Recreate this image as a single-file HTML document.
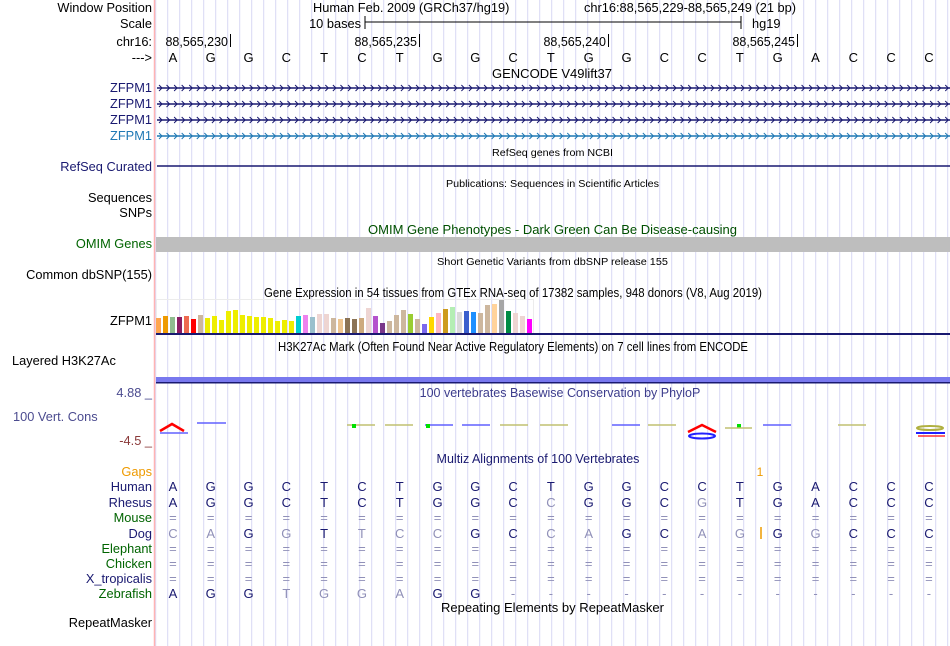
<!DOCTYPE html>
<html><head><meta charset="utf-8"><style>
body{margin:0;background:#fff;}
svg{display:block;font-family:"Liberation Sans",sans-serif;}
</style></head><body>
<svg id="c" width="950" height="646" xmlns="http://www.w3.org/2000/svg">
<g id="grid"></g>
<line x1="154.5" y1="0" x2="154.5" y2="646" stroke="#ffb3b3" stroke-width="1.5"/>
<g id="labels" font-size="12.8" text-anchor="end"></g>
<g id="content"></g>
</svg>
<script>
const bases = "AGGCTCTGGCTGGCCTGACCC".split("");
const gtexHeights = [15,17,16,16,17,14,18,15,17,13,22,23,18,17,16,16,15,12,13,12,17,18,16,19,19,15,14,15,14,15,25,17,10,12,18,23,19,14,9,16,20,24,26,21,22,21,20,28,29,33,22,20,17,14];
const gtexColors = ["#FFA54F","#EE9A00","#8FBC8F","#8B1C62","#EE6A50","#FF0000","#CDB79E","#EEEE00","#EEEE00","#EEEE00","#EEEE00","#EEEE00","#EEEE00","#EEEE00","#EEEE00","#EEEE00","#EEEE00","#EEEE00","#EEEE00","#EEEE00","#00CED1","#EE82EE","#9AC0CD","#EED5D2","#EED5D2","#CDB79E","#EEC591","#8B7355","#8B7355","#CDAA7D","#EED5D2","#B452CD","#7A378B","#CDB79E","#CDB79E","#CDB79E","#9ACD32","#CDB79E","#7B68EE","#FFD700","#FFB6C1","#CD9B1D","#B4EEB4","#D9D9D9","#3A5FCD","#1E90FF","#CDB79E","#CDB79E","#FFD39B","#A6A6A6","#008B45","#EED5D2","#EED5D2","#FF00FF"];
const rhesus = "AGGCTCTGGCCGGCGTGACCC".split("");
const dog = "CAGGTTCCGCCAGCAGGGCCC".split("");
const zebra = "AGGTGGAGG------------".split("");

const NS="http://www.w3.org/2000/svg";
const svg=document.getElementById('c');
const X0=154, BW=37.8;
const bx=i=>X0+BW*(i+0.5);
const gtexX=i=>156+7*i;
const gtexY=v=>333-v;
function mk(tag,attrs,parent,text){const e=document.createElementNS(NS,tag);for(const k in attrs)e.setAttribute(k,attrs[k]);if(text!==undefined)e.textContent=text;parent.appendChild(e);return e;}
const grid=document.getElementById('grid');
for(let x=155.7;x<950;x+=12){const l=mk('line',{x1:x,y1:0,x2:x,y2:646,stroke:'#d8d8f4','stroke-width':1},grid);

}
const L=document.getElementById('labels');
const labs=[["Window Position",12,"#000"],["Scale",28,"#000"],["chr16:",46,"#000"],["--->",62,"#000"],["ZFPM1",92,"#191970"],["ZFPM1",108,"#191970"],["ZFPM1",124,"#191970"],["ZFPM1",140,"#1f78b4"],["RefSeq Curated",171,"#191970"],["Sequences",202,"#000"],["SNPs",217,"#000"],["OMIM Genes",248,"#006400"],["Common dbSNP(155)",279,"#000"],["ZFPM1",325,"#000"],["4.88 _",397,"#4b4b8f"],["-4.5 _",445,"#8b3a3a"],["Gaps",476,"#ee9a00"],["Human",491,"#191970"],["Rhesus",507,"#191970"],["Mouse",522,"#006400"],["Dog",538,"#191970"],["Elephant",553,"#006400"],["Chicken",568,"#006400"],["X_tropicalis",583,"#191970"],["Zebrafish",598,"#006400"],["RepeatMasker",627,"#000"]];
labs.forEach(a=>{const t=mk('text',{x:152,y:a[1],fill:a[2]},L,a[0]);

});
const C=document.getElementById('content');
let t;
t=mk('text',{x:13,y:421,fill:'#4b4b8f','font-size':12.8},C,"100 Vert. Cons");
t=mk('text',{x:12,y:365,fill:'#000','font-size':12.8},C,"Layered H3K27Ac");
function title(txt,y,fs,col,x1,x2){const e=mk('text',{x:x1,y:y,'font-size':fs,fill:col||'#000',textLength:x2-x1,lengthAdjust:'spacingAndGlyphs'},C,txt);return e;}
function ctitle(txt,y,fs,col,cx){const e=mk('text',{x:cx,y:y,'font-size':fs,fill:col,'text-anchor':'middle'},C,txt);return e;}
t=mk('text',{x:313,y:12,'font-size':12.8},C,"Human Feb. 2009 (GRCh37/hg19)");
t=mk('text',{x:796,y:12,'font-size':12.8,'text-anchor':'end'},C,"chr16:88,565,229-88,565,249 (21 bp)");
t=mk('text',{x:361,y:28,'font-size':12.8,'text-anchor':'end'},C,"10 bases");
mk('line',{x1:365,y1:22,x2:741,y2:22,stroke:'#000'},C);
mk('line',{x1:365,y1:16,x2:365,y2:29,stroke:'#000'},C);mk('line',{x1:741,y1:16,x2:741,y2:29,stroke:'#000'},C);
t=mk('text',{x:752,y:28,'font-size':12.8},C,"hg19");
[["88,565,230",230],["88,565,235",419],["88,565,240",608],["88,565,245",797]].forEach(p=>{
const tt=mk('text',{x:p[1]-2,y:46,'font-size':12.5,'text-anchor':'end'},C,p[0]);
mk('line',{x1:p[1]+0.5,y1:34,x2:p[1]+0.5,y2:47,stroke:'#000'},C);});
bases.forEach((b,i)=>{const e=mk('text',{x:bx(i),y:62,'font-size':13,'text-anchor':'middle'},C,b);});
title("GENCODE V49lift37",78,12.8,'#000',492,612);
title("RefSeq genes from NCBI",156,10,'#000',492,613);
title("Publications: Sequences in Scientific Articles",187,10,'#000',446,659);
title("OMIM Gene Phenotypes - Dark Green Can Be Disease-causing",234,12.5,'#005000',368,737);
title("Short Genetic Variants from dbSNP release 155",265,10,'#000',437,668);
title("Gene Expression in 54 tissues from GTEx RNA-seq of 17382 samples, 948 donors (V8, Aug 2019)",297,12.5,'#000',264,762);
title("H3K27Ac Mark (Often Found Near Active Regulatory Elements) on 7 cell lines from ENCODE",351,12.5,'#000',278,748);
ctitle("100 vertebrates Basewise Conservation by PhyloP",397,12.5,'#3c3c8c',560);
ctitle("Multiz Alignments of 100 Vertebrates",463,12.5,'#191970',538);
title("Repeating Elements by RepeatMasker",612,12.5,'#000',441,664);
// gene lines with arrows
[[88,'#191970'],[104,'#191970'],[120,'#191970'],[136,'#1f78b4']].forEach(g=>{
const grp=mk('g',{stroke:g[1],fill:'none'},C);
mk('line',{x1:157,y1:g[0],x2:950,y2:g[0],'stroke-width':1.5},grp);
let d='';for(let x=159;x<948;x+=7.56){d+=`M${x} ${g[0]-3}L${x+3} ${g[0]}L${x} ${g[0]+3}`;}
mk('path',{d:d,'stroke-width':1},grp);});
mk('line',{x1:157,y1:166,x2:950,y2:166,stroke:'#191970','stroke-width':1.5},C);
mk('rect',{x:156,y:237,width:794,height:15,fill:'#bebebe'},C);
mk('rect',{x:156.5,y:299.5,width:377,height:34,fill:'none',stroke:'#ececec'},C);
// GTEx bars
gtexHeights.forEach((h,i)=>{const r=mk('rect',{x:gtexX(i),y:gtexY(h),width:5,height:333-gtexY(h),fill:gtexColors[i]},C);

});
mk('rect',{x:156,y:333,width:794,height:2,fill:'#191970'},C);
mk('rect',{x:156,y:377,width:794,height:5,fill:'#7878ee'},C);
mk('rect',{x:156,y:382,width:794,height:1.5,fill:'#191970'},C);
// conservation logos (approximate)
const cg=mk('g',{fill:'none','stroke-width':1.5},C);
mk('path',{d:'M160 431L172 424L184 431',stroke:'#ff0000','stroke-width':2.5},cg);
mk('line',{x1:160,y1:433,x2:188,y2:433,stroke:'#6060ff'},cg);
mk('line',{x1:197,y1:423,x2:226,y2:423,stroke:'#6060ff'},cg);
[[347,'#c0c070'],[385,'#c0c070'],[425,'#6060ff'],[462,'#6060ff'],[500,'#c0c070'],[540,'#c0c070'],[612,'#6060ff'],[648,'#c0c070'],[763,'#6060ff'],[838,'#c0c070']].forEach(s=>mk('line',{x1:s[0],y1:425,x2:s[0]+28,y2:425,stroke:s[1]},cg));
[[352,'#00e000'],[426,'#00e000'],[737,'#00e000']].forEach(s=>mk('rect',{x:s[0],y:424,width:4,height:4,fill:s[1],stroke:'none'},cg));
mk('path',{d:'M688 432L702 425L716 432',stroke:'#ff0000','stroke-width':2.5},cg);
mk('ellipse',{cx:702,cy:436,rx:13,ry:2.5,stroke:'#2020ff','stroke-width':2},cg);
mk('line',{x1:725,y1:428,x2:752,y2:428,stroke:'#c0c070'},cg);
mk('ellipse',{cx:930,cy:428,rx:13,ry:2,stroke:'#b0b040','stroke-width':2},cg);
mk('line',{x1:916,y1:433,x2:945,y2:433,stroke:'#2020ff','stroke-width':2},cg);
mk('path',{d:'M918 436L945 436',stroke:'#ff3030','stroke-width':1.5},cg);
// multiz
t=mk('text',{x:760,y:476,'font-size':12,fill:'#ee9a00','text-anchor':'middle'},C,"1");
function row(arr,y,ref){arr.forEach((b,i)=>{let col='#191970';if(b==='='||b==='-')col='#9090b8';else if(ref&&b!==bases[i])col='#9090b8';
const e=mk('text',{x:bx(i),y:y,'font-size':13,'text-anchor':'middle',fill:col},C,b);

});}
row(bases,491,false);row(rhesus,507,true);
const eq=bases.map(()=>'=');
row(eq,522);row(dog,538,true);row(eq,553);row(eq,568);row(eq,583);row(zebra,598,true);
mk('line',{x1:761,y1:527,x2:761,y2:539,stroke:'#ee9a00','stroke-width':1.5},C);
</script>
</body></html>
